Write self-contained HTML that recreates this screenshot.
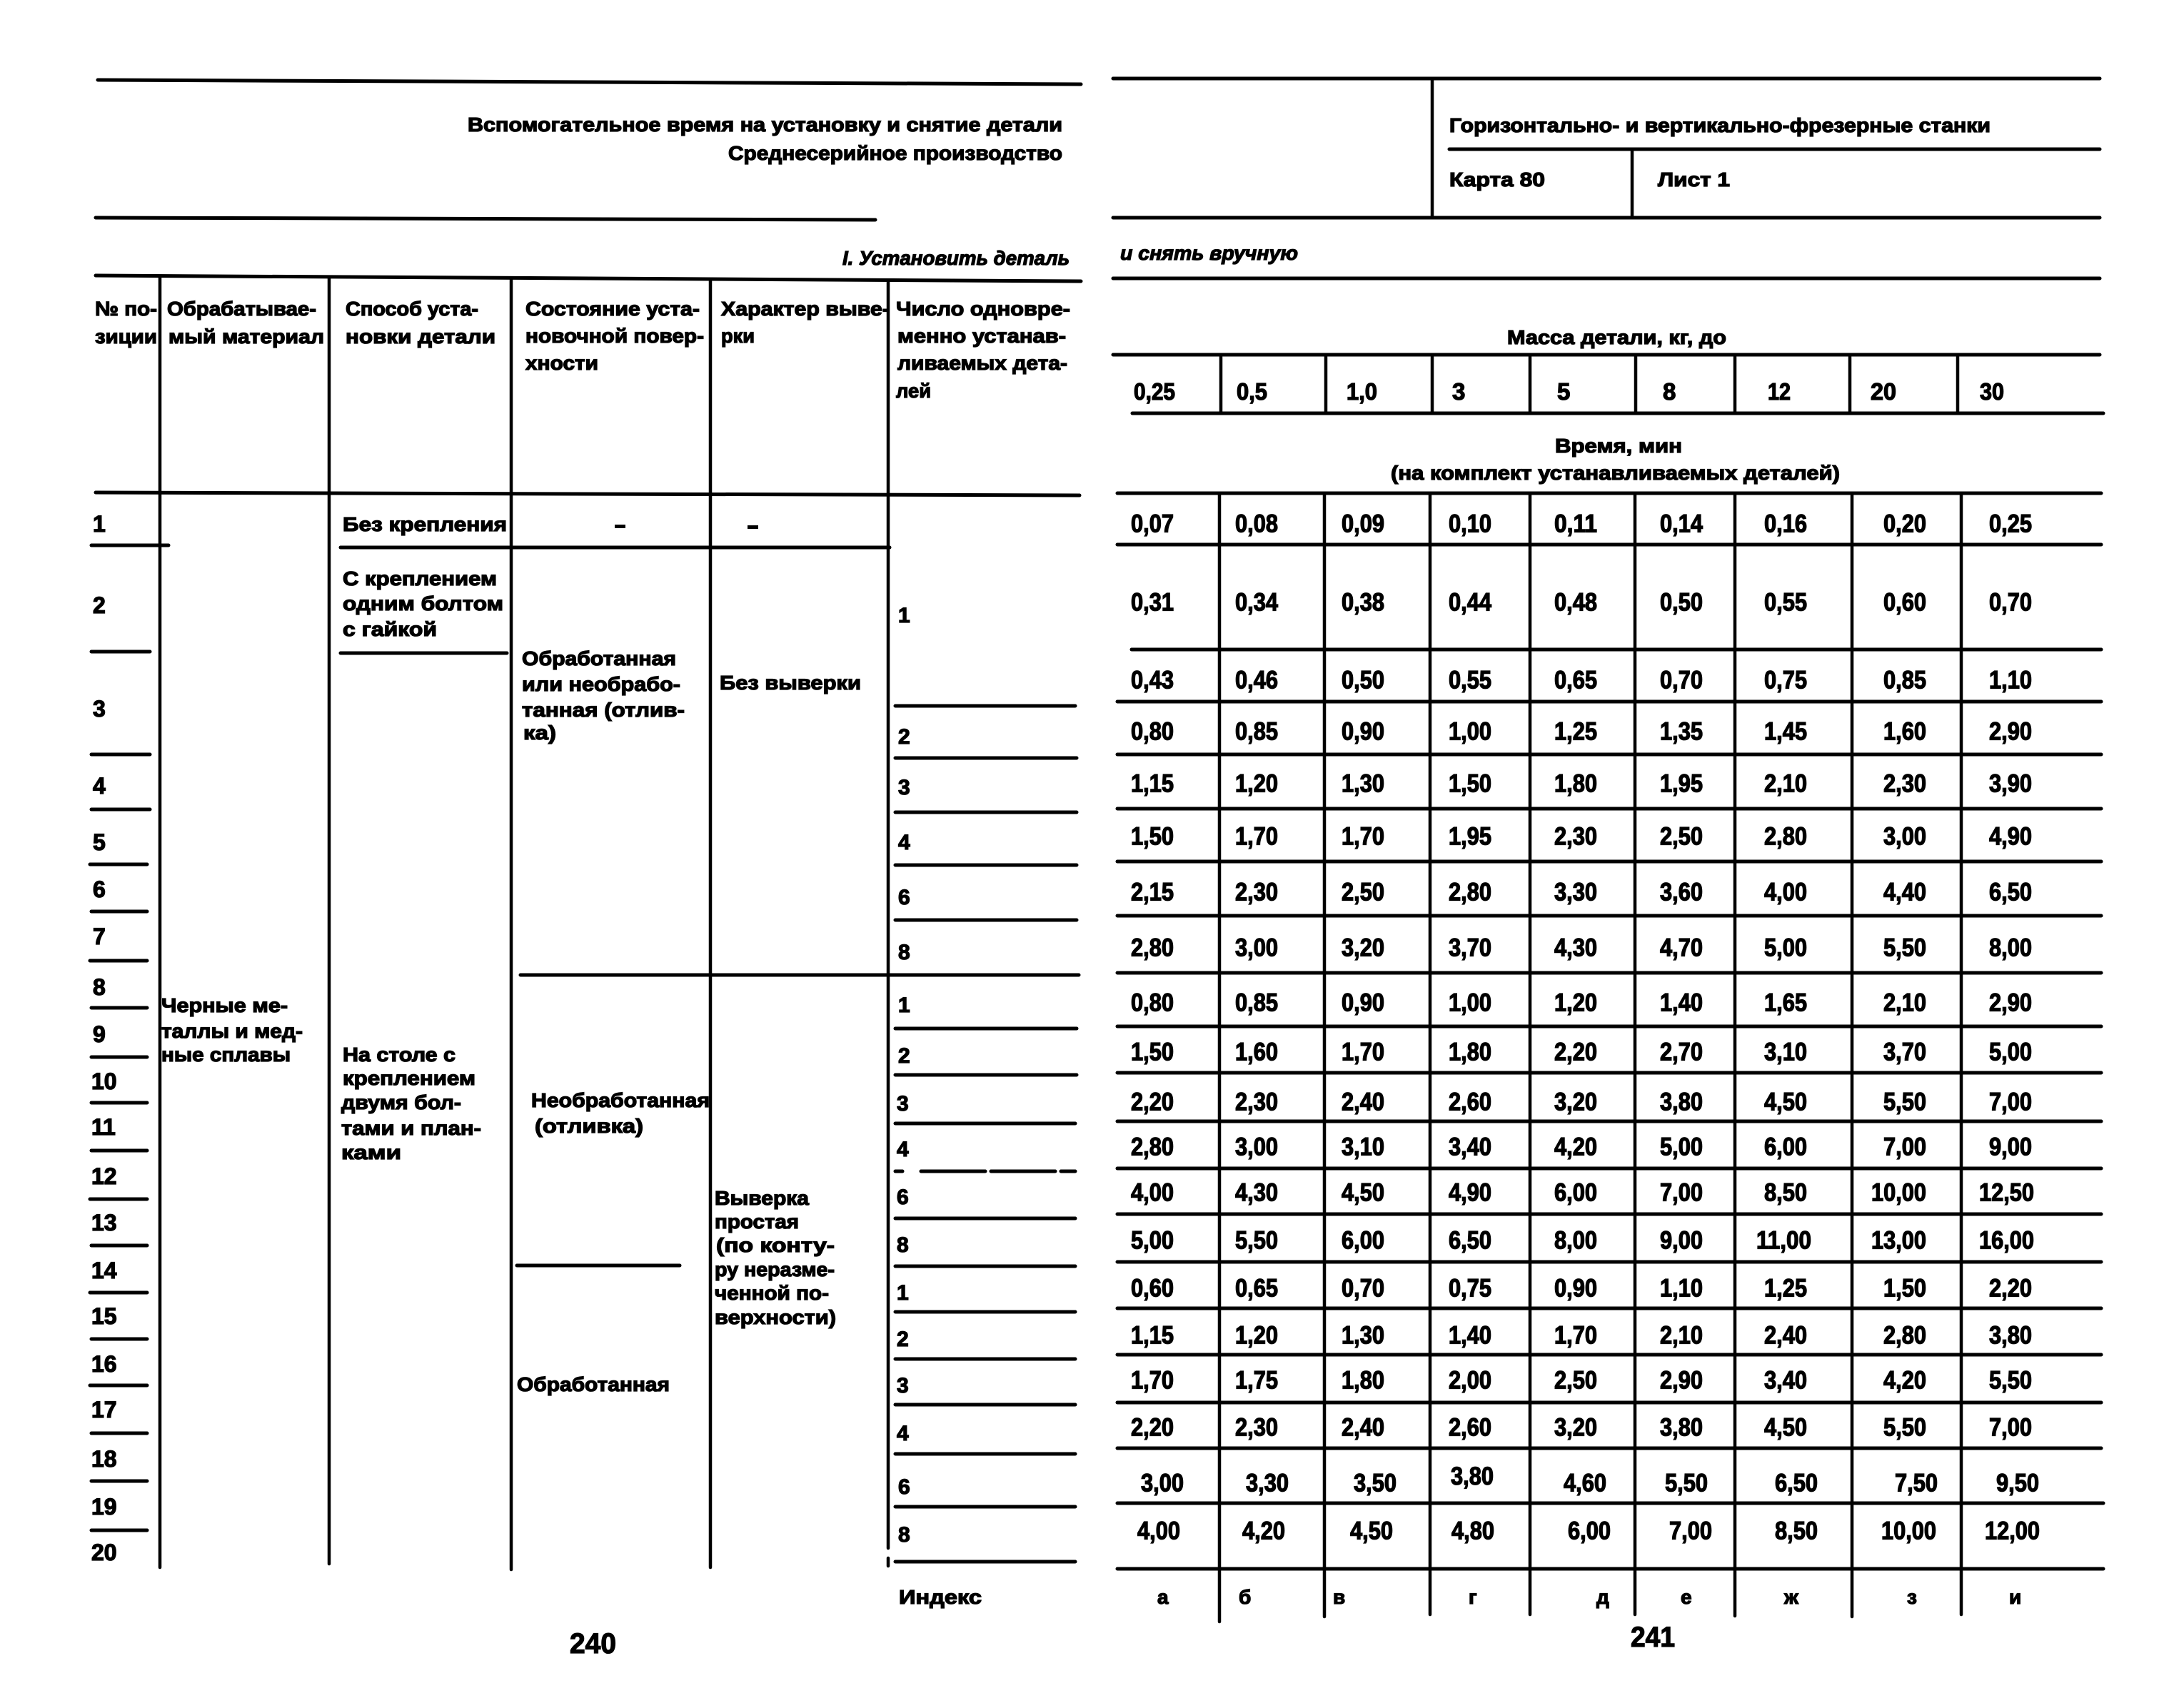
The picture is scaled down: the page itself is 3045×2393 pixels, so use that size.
<!DOCTYPE html>
<html><head><meta charset="utf-8">
<style>
html,body{margin:0;padding:0;background:#fff;}
svg{display:block;}
text{font-family:"Liberation Sans","DejaVu Sans",sans-serif;font-weight:bold;fill:#000;stroke:#000;stroke-width:1.3px;}
.t{font-size:28px;}
.n{font-size:32px;}
.c{font-size:30px;}
.d{font-size:35px;}
.m{font-size:33px;}
.p{font-size:40px;}
.i{font-style:italic;font-size:28px;}
line{stroke:#000;stroke-linecap:round;}
.h{stroke-width:5;}
.v{stroke-width:4.5;}
</style></head>
<body>
<svg width="3045" height="2393" viewBox="0 0 3045 2393" xmlns="http://www.w3.org/2000/svg">
<rect width="3045" height="2393" fill="#fff"/>

<!-- LEFT PAGE -->
<line class="h" x1="137" y1="112" x2="1514" y2="118"/>
<text class="t" x="655" y="184" textLength="833" lengthAdjust="spacingAndGlyphs">Вспомогательное время на установку и снятие детали</text>
<text class="t" x="1020" y="224" textLength="468" lengthAdjust="spacingAndGlyphs">Среднесерийное производство</text>
<line class="h" x1="134" y1="305" x2="1226" y2="308"/>
<text class="i" x="1180" y="371" textLength="318" lengthAdjust="spacingAndGlyphs">I. Установить деталь</text>

<line class="h" x1="134" y1="386" x2="1514" y2="394"/>
<line class="h" x1="134" y1="690" x2="1512" y2="694"/>
<line class="v" x1="224" y1="388" x2="224" y2="2196"/>
<line class="v" x1="461" y1="389" x2="461" y2="2191"/>
<line class="v" x1="716" y1="390" x2="716" y2="2199"/>
<line class="v" x1="995" y1="391" x2="995" y2="2196"/>
<line class="v" x1="1244" y1="393" x2="1244" y2="2169"/>
<line class="v" x1="1244" y1="2183" x2="1244" y2="2194"/>

<!-- header text -->
<text class="t" x="133" y="442" textLength="87" lengthAdjust="spacingAndGlyphs">№ по-</text>
<text class="t" x="133" y="481" textLength="87" lengthAdjust="spacingAndGlyphs">зиции</text>
<text class="t" x="234" y="442" textLength="209" lengthAdjust="spacingAndGlyphs">Обрабатывае-</text>
<text class="t" x="236" y="481" textLength="218" lengthAdjust="spacingAndGlyphs">мый материал</text>
<text class="t" x="484" y="442" textLength="186" lengthAdjust="spacingAndGlyphs">Способ уста-</text>
<text class="t" x="484" y="481" textLength="210" lengthAdjust="spacingAndGlyphs">новки детали</text>
<text class="t" x="736" y="442" textLength="244" lengthAdjust="spacingAndGlyphs">Состояние уста-</text>
<text class="t" x="736" y="480" textLength="250" lengthAdjust="spacingAndGlyphs">новочной повер-</text>
<text class="t" x="736" y="518" textLength="102" lengthAdjust="spacingAndGlyphs">хности</text>
<text class="t" x="1010" y="442" textLength="236" lengthAdjust="spacingAndGlyphs">Характер выве-</text>
<text class="t" x="1010" y="480" textLength="47" lengthAdjust="spacingAndGlyphs">рки</text>
<text class="t" x="1255" y="442" textLength="244" lengthAdjust="spacingAndGlyphs">Число одновре-</text>
<text class="t" x="1257" y="480" textLength="236" lengthAdjust="spacingAndGlyphs">менно устанав-</text>
<text class="t" x="1257" y="518" textLength="238" lengthAdjust="spacingAndGlyphs">ливаемых дета-</text>
<text class="t" x="1255" y="557" textLength="49" lengthAdjust="spacingAndGlyphs">лей</text>

<!-- body lines left -->
<line class="h" x1="477" y1="767" x2="1246" y2="767"/>
<line class="h" x1="477" y1="915" x2="710" y2="915"/>
<line class="h" x1="729" y1="1366" x2="1511" y2="1366"/>
<line class="h" x1="724" y1="1773" x2="952" y2="1773"/>
<line class="h" x1="128" y1="764" x2="236" y2="764"/>
<line class="h" x1="128" y1="913" x2="210" y2="913"/>
<line class="h" x1="128" y1="1057" x2="210" y2="1057"/>
<line class="h" x1="128" y1="1134" x2="210" y2="1134"/>
<line class="h" x1="126" y1="1211" x2="206" y2="1211"/>
<line class="h" x1="128" y1="1277" x2="206" y2="1277"/>
<line class="h" x1="126" y1="1346" x2="206" y2="1346"/>
<line class="h" x1="128" y1="1412" x2="206" y2="1412"/>
<line class="h" x1="128" y1="1481" x2="206" y2="1481"/>
<line class="h" x1="128" y1="1545" x2="206" y2="1545"/>
<line class="h" x1="128" y1="1612" x2="206" y2="1612"/>
<line class="h" x1="126" y1="1680" x2="206" y2="1680"/>
<line class="h" x1="128" y1="1745" x2="206" y2="1745"/>
<line class="h" x1="126" y1="1811" x2="206" y2="1811"/>
<line class="h" x1="128" y1="1876" x2="206" y2="1876"/>
<line class="h" x1="126" y1="1941" x2="206" y2="1941"/>
<line class="h" x1="128" y1="2008" x2="206" y2="2008"/>
<line class="h" x1="128" y1="2075" x2="206" y2="2075"/>
<line class="h" x1="128" y1="2144" x2="206" y2="2144"/>

<line class="h" x1="1254" y1="989" x2="1506" y2="989"/>
<line class="h" x1="1254" y1="1062" x2="1508" y2="1062"/>
<line class="h" x1="1254" y1="1138" x2="1508" y2="1138"/>
<line class="h" x1="1254" y1="1212" x2="1508" y2="1212"/>
<line class="h" x1="1254" y1="1289" x2="1508" y2="1289"/>
<line class="h" x1="1254" y1="1441" x2="1508" y2="1441"/>
<line class="h" x1="1254" y1="1506" x2="1508" y2="1506"/>
<line class="h" x1="1254" y1="1574" x2="1506" y2="1574"/>
<line class="h" x1="1254" y1="1641" x2="1264" y2="1641"/>
<line class="h" x1="1290" y1="1641" x2="1506" y2="1641" stroke-dasharray="90 8"/>
<line class="h" x1="1254" y1="1707" x2="1506" y2="1707"/>
<line class="h" x1="1254" y1="1774" x2="1506" y2="1774"/>
<line class="h" x1="1254" y1="1838" x2="1506" y2="1838"/>
<line class="h" x1="1254" y1="1904" x2="1506" y2="1904"/>
<line class="h" x1="1254" y1="1968" x2="1506" y2="1968"/>
<line class="h" x1="1254" y1="2037" x2="1506" y2="2037"/>
<line class="h" x1="1254" y1="2111" x2="1506" y2="2111"/>
<line class="h" x1="1254" y1="2188" x2="1506" y2="2188"/>

<!-- row numbers -->
<text class="n" x="130" y="745">1</text>
<text class="n" x="130" y="859">2</text>
<text class="n" x="130" y="1004">3</text>
<text class="n" x="130" y="1112">4</text>
<text class="n" x="130" y="1191">5</text>
<text class="n" x="130" y="1257">6</text>
<text class="n" x="130" y="1323">7</text>
<text class="n" x="130" y="1394">8</text>
<text class="n" x="130" y="1460">9</text>
<text class="n" x="128" y="1526">10</text>
<text class="n" x="128" y="1590">11</text>
<text class="n" x="128" y="1659">12</text>
<text class="n" x="128" y="1724">13</text>
<text class="n" x="128" y="1791">14</text>
<text class="n" x="128" y="1855">15</text>
<text class="n" x="128" y="1922">16</text>
<text class="n" x="128" y="1986">17</text>
<text class="n" x="128" y="2055">18</text>
<text class="n" x="128" y="2122">19</text>
<text class="n" x="128" y="2186">20</text>

<!-- body text left -->
<text class="t" x="480" y="744" textLength="230" lengthAdjust="spacingAndGlyphs">Без крепления</text>
<rect x="861" y="735" width="15" height="5" fill="#000"/>
<rect x="1047" y="736" width="15" height="5" fill="#000"/>
<text class="t" x="480" y="820" textLength="216" lengthAdjust="spacingAndGlyphs">С креплением</text>
<text class="t" x="480" y="855" textLength="225" lengthAdjust="spacingAndGlyphs">одним болтом</text>
<text class="t" x="480" y="891" textLength="132" lengthAdjust="spacingAndGlyphs">с гайкой</text>

<text class="t" x="731" y="932" textLength="216" lengthAdjust="spacingAndGlyphs">Обработанная</text>
<text class="t" x="731" y="968" textLength="222" lengthAdjust="spacingAndGlyphs">или необрабо-</text>
<text class="t" x="731" y="1004" textLength="228" lengthAdjust="spacingAndGlyphs">танная  (отлив-</text>
<text class="t" x="733" y="1036" textLength="46" lengthAdjust="spacingAndGlyphs">ка)</text>
<text class="t" x="1008" y="966" textLength="198" lengthAdjust="spacingAndGlyphs">Без выверки</text>

<text class="t" x="226" y="1418" textLength="177" lengthAdjust="spacingAndGlyphs">Черные ме-</text>
<text class="t" x="226" y="1454" textLength="198" lengthAdjust="spacingAndGlyphs">таллы и мед-</text>
<text class="t" x="226" y="1487" textLength="181" lengthAdjust="spacingAndGlyphs">ные сплавы</text>

<text class="t" x="480" y="1487" textLength="158" lengthAdjust="spacingAndGlyphs">На столе с</text>
<text class="t" x="480" y="1520" textLength="186" lengthAdjust="spacingAndGlyphs">креплением</text>
<text class="t" x="478" y="1554" textLength="168" lengthAdjust="spacingAndGlyphs">двумя бол-</text>
<text class="t" x="478" y="1590" textLength="196" lengthAdjust="spacingAndGlyphs">тами и план-</text>
<text class="t" x="478" y="1624" textLength="84" lengthAdjust="spacingAndGlyphs">ками</text>

<text class="t" x="744" y="1551" textLength="250" lengthAdjust="spacingAndGlyphs">Необработанная</text>
<text class="t" x="749" y="1587" textLength="152" lengthAdjust="spacingAndGlyphs">(отливка)</text>

<text class="t" x="1001" y="1688" textLength="132" lengthAdjust="spacingAndGlyphs">Выверка</text>
<text class="t" x="1001" y="1721" textLength="118" lengthAdjust="spacingAndGlyphs">простая</text>
<text class="t" x="1003" y="1754" textLength="166" lengthAdjust="spacingAndGlyphs">(по конту-</text>
<text class="t" x="1001" y="1788" textLength="168" lengthAdjust="spacingAndGlyphs">ру неразме-</text>
<text class="t" x="1001" y="1821" textLength="160" lengthAdjust="spacingAndGlyphs">ченной по-</text>
<text class="t" x="1001" y="1855" textLength="170" lengthAdjust="spacingAndGlyphs">верхности)</text>

<text class="t" x="724" y="1949" textLength="214" lengthAdjust="spacingAndGlyphs">Обработанная</text>

<!-- col 6 numbers -->
<text class="c" x="1258" y="872">1</text>
<text class="c" x="1258" y="1042">2</text>
<text class="c" x="1258" y="1113">3</text>
<text class="c" x="1258" y="1190">4</text>
<text class="c" x="1258" y="1267">6</text>
<text class="c" x="1258" y="1344">8</text>
<text class="c" x="1258" y="1418">1</text>
<text class="c" x="1258" y="1489">2</text>
<text class="c" x="1256" y="1556">3</text>
<text class="c" x="1256" y="1620">4</text>
<text class="c" x="1256" y="1687">6</text>
<text class="c" x="1256" y="1754">8</text>
<text class="c" x="1256" y="1821">1</text>
<text class="c" x="1256" y="1886">2</text>
<text class="c" x="1256" y="1951">3</text>
<text class="c" x="1256" y="2018">4</text>
<text class="c" x="1258" y="2093">6</text>
<text class="c" x="1258" y="2160">8</text>

<text class="t" x="1259" y="2247" textLength="116" lengthAdjust="spacingAndGlyphs">Индекс</text>
<text class="p" x="798" y="2316" textLength="65" lengthAdjust="spacingAndGlyphs">240</text>

<!-- RIGHT PAGE -->
<line class="h" x1="1559" y1="110" x2="2941" y2="110"/>
<line class="v" x1="2006" y1="110" x2="2006" y2="305"/>
<line class="h" x1="2030" y1="209" x2="2941" y2="209"/>
<line class="v" x1="2286" y1="209" x2="2286" y2="305"/>
<line class="h" x1="1559" y1="305" x2="2941" y2="305"/>
<line class="h" x1="1559" y1="390" x2="2941" y2="390"/>
<line class="h" x1="1559" y1="497" x2="2941" y2="497"/>
<line class="h" x1="1586" y1="579" x2="2946" y2="579"/>

<text class="t" x="2030" y="185" textLength="758" lengthAdjust="spacingAndGlyphs">Горизонтально- и вертикально-фрезерные станки</text>
<text class="t" x="2030" y="261" textLength="134" lengthAdjust="spacingAndGlyphs">Карта 80</text>
<text class="t" x="2322" y="261" textLength="101" lengthAdjust="spacingAndGlyphs">Лист 1</text>
<text class="i" x="1569" y="364" textLength="249" lengthAdjust="spacingAndGlyphs">и снять вручную</text>
<text class="t" x="2111" y="482" textLength="307" lengthAdjust="spacingAndGlyphs">Масса детали, кг, до</text>

<line class="v" x1="1710" y1="500" x2="1710" y2="579"/>
<line class="v" x1="1857" y1="500" x2="1857" y2="579"/>
<line class="v" x1="2006" y1="500" x2="2006" y2="579"/>
<line class="v" x1="2143" y1="500" x2="2143" y2="579"/>
<line class="v" x1="2291" y1="500" x2="2291" y2="579"/>
<line class="v" x1="2430" y1="500" x2="2430" y2="579"/>
<line class="v" x1="2591" y1="500" x2="2591" y2="579"/>
<line class="v" x1="2742" y1="500" x2="2742" y2="579"/>

<text class="m" x="1588" y="560" textLength="58" lengthAdjust="spacingAndGlyphs">0,25</text>
<text class="m" x="1732" y="560" textLength="43" lengthAdjust="spacingAndGlyphs">0,5</text>
<text class="m" x="1886" y="560" textLength="43" lengthAdjust="spacingAndGlyphs">1,0</text>
<text class="m" x="2034" y="560">3</text>
<text class="m" x="2181" y="560">5</text>
<text class="m" x="2329" y="560">8</text>
<text class="m" x="2476" y="560" textLength="32" lengthAdjust="spacingAndGlyphs">12</text>
<text class="m" x="2620" y="560" textLength="36" lengthAdjust="spacingAndGlyphs">20</text>
<text class="m" x="2773" y="560" textLength="34" lengthAdjust="spacingAndGlyphs">30</text>

<text class="t" x="2178" y="634" textLength="178" lengthAdjust="spacingAndGlyphs">Время, мин</text>
<text class="t" x="1948" y="672" textLength="629" lengthAdjust="spacingAndGlyphs">(на комплект устанавливаемых деталей)</text>

<!-- data grid -->
<line class="h" x1="1565" y1="691" x2="2943" y2="691"/>
<line class="h" x1="1565" y1="763" x2="2943" y2="763"/>
<line class="h" x1="1585" y1="910" x2="2943" y2="910"/>
<line class="h" x1="1565" y1="983" x2="2943" y2="983"/>
<line class="h" x1="1565" y1="1057" x2="2943" y2="1057"/>
<line class="h" x1="1565" y1="1133" x2="2943" y2="1133"/>
<line class="h" x1="1565" y1="1207" x2="2943" y2="1207"/>
<line class="h" x1="1565" y1="1283" x2="2943" y2="1283"/>
<line class="h" x1="1565" y1="1363" x2="2943" y2="1363"/>
<line class="h" x1="1565" y1="1438" x2="2943" y2="1438"/>
<line class="h" x1="1565" y1="1503" x2="2943" y2="1503"/>
<line class="h" x1="1565" y1="1571" x2="2943" y2="1571"/>
<line class="h" x1="1565" y1="1637" x2="2943" y2="1637"/>
<line class="h" x1="1565" y1="1701" x2="2943" y2="1701"/>
<line class="h" x1="1565" y1="1768" x2="2943" y2="1768"/>
<line class="h" x1="1565" y1="1833" x2="2943" y2="1833"/>
<line class="h" x1="1565" y1="1898" x2="2943" y2="1898"/>
<line class="h" x1="1565" y1="1965" x2="2943" y2="1965"/>
<line class="h" x1="1565" y1="2029" x2="2943" y2="2029"/>
<line class="h" x1="1565" y1="2106" x2="2946" y2="2106"/>
<line class="h" x1="1565" y1="2198" x2="2946" y2="2198"/>

<line class="v" x1="1708" y1="691" x2="1708" y2="2272"/>
<line class="v" x1="1855" y1="691" x2="1855" y2="2265"/>
<line class="v" x1="2003" y1="691" x2="2003" y2="2262"/>
<line class="v" x1="2143" y1="691" x2="2143" y2="2262"/>
<line class="v" x1="2290" y1="691" x2="2290" y2="2262"/>
<line class="v" x1="2430" y1="691" x2="2430" y2="2264"/>
<line class="v" x1="2594" y1="691" x2="2594" y2="2265"/>
<line class="v" x1="2747" y1="691" x2="2747" y2="2262"/>

<!-- row 1 -->
<text class="d" x="1584" y="745.5" textLength="60" lengthAdjust="spacingAndGlyphs">0,07</text>
<text class="d" x="1730" y="745.5" textLength="60" lengthAdjust="spacingAndGlyphs">0,08</text>
<text class="d" x="1879" y="745.5" textLength="60" lengthAdjust="spacingAndGlyphs">0,09</text>
<text class="d" x="2029" y="745.5" textLength="60" lengthAdjust="spacingAndGlyphs">0,10</text>
<text class="d" x="2177" y="745.5" textLength="60" lengthAdjust="spacingAndGlyphs">0,11</text>
<text class="d" x="2325" y="745.5" textLength="60" lengthAdjust="spacingAndGlyphs">0,14</text>
<text class="d" x="2471" y="745.5" textLength="60" lengthAdjust="spacingAndGlyphs">0,16</text>
<text class="d" x="2638" y="745.5" textLength="60" lengthAdjust="spacingAndGlyphs">0,20</text>
<text class="d" x="2786" y="745.5" textLength="60" lengthAdjust="spacingAndGlyphs">0,25</text>
<!-- row 2 -->
<text class="d" x="1584" y="855.5" textLength="60" lengthAdjust="spacingAndGlyphs">0,31</text>
<text class="d" x="1730" y="855.5" textLength="60" lengthAdjust="spacingAndGlyphs">0,34</text>
<text class="d" x="1879" y="855.5" textLength="60" lengthAdjust="spacingAndGlyphs">0,38</text>
<text class="d" x="2029" y="855.5" textLength="60" lengthAdjust="spacingAndGlyphs">0,44</text>
<text class="d" x="2177" y="855.5" textLength="60" lengthAdjust="spacingAndGlyphs">0,48</text>
<text class="d" x="2325" y="855.5" textLength="60" lengthAdjust="spacingAndGlyphs">0,50</text>
<text class="d" x="2471" y="855.5" textLength="60" lengthAdjust="spacingAndGlyphs">0,55</text>
<text class="d" x="2638" y="855.5" textLength="60" lengthAdjust="spacingAndGlyphs">0,60</text>
<text class="d" x="2786" y="855.5" textLength="60" lengthAdjust="spacingAndGlyphs">0,70</text>
<!-- row 3 -->
<text class="d" x="1584" y="964.5" textLength="60" lengthAdjust="spacingAndGlyphs">0,43</text>
<text class="d" x="1730" y="964.5" textLength="60" lengthAdjust="spacingAndGlyphs">0,46</text>
<text class="d" x="1879" y="964.5" textLength="60" lengthAdjust="spacingAndGlyphs">0,50</text>
<text class="d" x="2029" y="964.5" textLength="60" lengthAdjust="spacingAndGlyphs">0,55</text>
<text class="d" x="2177" y="964.5" textLength="60" lengthAdjust="spacingAndGlyphs">0,65</text>
<text class="d" x="2325" y="964.5" textLength="60" lengthAdjust="spacingAndGlyphs">0,70</text>
<text class="d" x="2471" y="964.5" textLength="60" lengthAdjust="spacingAndGlyphs">0,75</text>
<text class="d" x="2638" y="964.5" textLength="60" lengthAdjust="spacingAndGlyphs">0,85</text>
<text class="d" x="2786" y="964.5" textLength="60" lengthAdjust="spacingAndGlyphs">1,10</text>
<!-- row 4 -->
<text class="d" x="1584" y="1036.5" textLength="60" lengthAdjust="spacingAndGlyphs">0,80</text>
<text class="d" x="1730" y="1036.5" textLength="60" lengthAdjust="spacingAndGlyphs">0,85</text>
<text class="d" x="1879" y="1036.5" textLength="60" lengthAdjust="spacingAndGlyphs">0,90</text>
<text class="d" x="2029" y="1036.5" textLength="60" lengthAdjust="spacingAndGlyphs">1,00</text>
<text class="d" x="2177" y="1036.5" textLength="60" lengthAdjust="spacingAndGlyphs">1,25</text>
<text class="d" x="2325" y="1036.5" textLength="60" lengthAdjust="spacingAndGlyphs">1,35</text>
<text class="d" x="2471" y="1036.5" textLength="60" lengthAdjust="spacingAndGlyphs">1,45</text>
<text class="d" x="2638" y="1036.5" textLength="60" lengthAdjust="spacingAndGlyphs">1,60</text>
<text class="d" x="2786" y="1036.5" textLength="60" lengthAdjust="spacingAndGlyphs">2,90</text>
<!-- row 5 -->
<text class="d" x="1584" y="1109.5" textLength="60" lengthAdjust="spacingAndGlyphs">1,15</text>
<text class="d" x="1730" y="1109.5" textLength="60" lengthAdjust="spacingAndGlyphs">1,20</text>
<text class="d" x="1879" y="1109.5" textLength="60" lengthAdjust="spacingAndGlyphs">1,30</text>
<text class="d" x="2029" y="1109.5" textLength="60" lengthAdjust="spacingAndGlyphs">1,50</text>
<text class="d" x="2177" y="1109.5" textLength="60" lengthAdjust="spacingAndGlyphs">1,80</text>
<text class="d" x="2325" y="1109.5" textLength="60" lengthAdjust="spacingAndGlyphs">1,95</text>
<text class="d" x="2471" y="1109.5" textLength="60" lengthAdjust="spacingAndGlyphs">2,10</text>
<text class="d" x="2638" y="1109.5" textLength="60" lengthAdjust="spacingAndGlyphs">2,30</text>
<text class="d" x="2786" y="1109.5" textLength="60" lengthAdjust="spacingAndGlyphs">3,90</text>
<!-- row 6 -->
<text class="d" x="1584" y="1183.5" textLength="60" lengthAdjust="spacingAndGlyphs">1,50</text>
<text class="d" x="1730" y="1183.5" textLength="60" lengthAdjust="spacingAndGlyphs">1,70</text>
<text class="d" x="1879" y="1183.5" textLength="60" lengthAdjust="spacingAndGlyphs">1,70</text>
<text class="d" x="2029" y="1183.5" textLength="60" lengthAdjust="spacingAndGlyphs">1,95</text>
<text class="d" x="2177" y="1183.5" textLength="60" lengthAdjust="spacingAndGlyphs">2,30</text>
<text class="d" x="2325" y="1183.5" textLength="60" lengthAdjust="spacingAndGlyphs">2,50</text>
<text class="d" x="2471" y="1183.5" textLength="60" lengthAdjust="spacingAndGlyphs">2,80</text>
<text class="d" x="2638" y="1183.5" textLength="60" lengthAdjust="spacingAndGlyphs">3,00</text>
<text class="d" x="2786" y="1183.5" textLength="60" lengthAdjust="spacingAndGlyphs">4,90</text>
<!-- row 7 -->
<text class="d" x="1584" y="1261.5" textLength="60" lengthAdjust="spacingAndGlyphs">2,15</text>
<text class="d" x="1730" y="1261.5" textLength="60" lengthAdjust="spacingAndGlyphs">2,30</text>
<text class="d" x="1879" y="1261.5" textLength="60" lengthAdjust="spacingAndGlyphs">2,50</text>
<text class="d" x="2029" y="1261.5" textLength="60" lengthAdjust="spacingAndGlyphs">2,80</text>
<text class="d" x="2177" y="1261.5" textLength="60" lengthAdjust="spacingAndGlyphs">3,30</text>
<text class="d" x="2325" y="1261.5" textLength="60" lengthAdjust="spacingAndGlyphs">3,60</text>
<text class="d" x="2471" y="1261.5" textLength="60" lengthAdjust="spacingAndGlyphs">4,00</text>
<text class="d" x="2638" y="1261.5" textLength="60" lengthAdjust="spacingAndGlyphs">4,40</text>
<text class="d" x="2786" y="1261.5" textLength="60" lengthAdjust="spacingAndGlyphs">6,50</text>
<!-- row 8 -->
<text class="d" x="1584" y="1339.5" textLength="60" lengthAdjust="spacingAndGlyphs">2,80</text>
<text class="d" x="1730" y="1339.5" textLength="60" lengthAdjust="spacingAndGlyphs">3,00</text>
<text class="d" x="1879" y="1339.5" textLength="60" lengthAdjust="spacingAndGlyphs">3,20</text>
<text class="d" x="2029" y="1339.5" textLength="60" lengthAdjust="spacingAndGlyphs">3,70</text>
<text class="d" x="2177" y="1339.5" textLength="60" lengthAdjust="spacingAndGlyphs">4,30</text>
<text class="d" x="2325" y="1339.5" textLength="60" lengthAdjust="spacingAndGlyphs">4,70</text>
<text class="d" x="2471" y="1339.5" textLength="60" lengthAdjust="spacingAndGlyphs">5,00</text>
<text class="d" x="2638" y="1339.5" textLength="60" lengthAdjust="spacingAndGlyphs">5,50</text>
<text class="d" x="2786" y="1339.5" textLength="60" lengthAdjust="spacingAndGlyphs">8,00</text>
<!-- row 9 -->
<text class="d" x="1584" y="1416.5" textLength="60" lengthAdjust="spacingAndGlyphs">0,80</text>
<text class="d" x="1730" y="1416.5" textLength="60" lengthAdjust="spacingAndGlyphs">0,85</text>
<text class="d" x="1879" y="1416.5" textLength="60" lengthAdjust="spacingAndGlyphs">0,90</text>
<text class="d" x="2029" y="1416.5" textLength="60" lengthAdjust="spacingAndGlyphs">1,00</text>
<text class="d" x="2177" y="1416.5" textLength="60" lengthAdjust="spacingAndGlyphs">1,20</text>
<text class="d" x="2325" y="1416.5" textLength="60" lengthAdjust="spacingAndGlyphs">1,40</text>
<text class="d" x="2471" y="1416.5" textLength="60" lengthAdjust="spacingAndGlyphs">1,65</text>
<text class="d" x="2638" y="1416.5" textLength="60" lengthAdjust="spacingAndGlyphs">2,10</text>
<text class="d" x="2786" y="1416.5" textLength="60" lengthAdjust="spacingAndGlyphs">2,90</text>
<!-- row 10 -->
<text class="d" x="1584" y="1485.5" textLength="60" lengthAdjust="spacingAndGlyphs">1,50</text>
<text class="d" x="1730" y="1485.5" textLength="60" lengthAdjust="spacingAndGlyphs">1,60</text>
<text class="d" x="1879" y="1485.5" textLength="60" lengthAdjust="spacingAndGlyphs">1,70</text>
<text class="d" x="2029" y="1485.5" textLength="60" lengthAdjust="spacingAndGlyphs">1,80</text>
<text class="d" x="2177" y="1485.5" textLength="60" lengthAdjust="spacingAndGlyphs">2,20</text>
<text class="d" x="2325" y="1485.5" textLength="60" lengthAdjust="spacingAndGlyphs">2,70</text>
<text class="d" x="2471" y="1485.5" textLength="60" lengthAdjust="spacingAndGlyphs">3,10</text>
<text class="d" x="2638" y="1485.5" textLength="60" lengthAdjust="spacingAndGlyphs">3,70</text>
<text class="d" x="2786" y="1485.5" textLength="60" lengthAdjust="spacingAndGlyphs">5,00</text>
<!-- row 11 -->
<text class="d" x="1584" y="1555.5" textLength="60" lengthAdjust="spacingAndGlyphs">2,20</text>
<text class="d" x="1730" y="1555.5" textLength="60" lengthAdjust="spacingAndGlyphs">2,30</text>
<text class="d" x="1879" y="1555.5" textLength="60" lengthAdjust="spacingAndGlyphs">2,40</text>
<text class="d" x="2029" y="1555.5" textLength="60" lengthAdjust="spacingAndGlyphs">2,60</text>
<text class="d" x="2177" y="1555.5" textLength="60" lengthAdjust="spacingAndGlyphs">3,20</text>
<text class="d" x="2325" y="1555.5" textLength="60" lengthAdjust="spacingAndGlyphs">3,80</text>
<text class="d" x="2471" y="1555.5" textLength="60" lengthAdjust="spacingAndGlyphs">4,50</text>
<text class="d" x="2638" y="1555.5" textLength="60" lengthAdjust="spacingAndGlyphs">5,50</text>
<text class="d" x="2786" y="1555.5" textLength="60" lengthAdjust="spacingAndGlyphs">7,00</text>
<!-- row 12 -->
<text class="d" x="1584" y="1618.5" textLength="60" lengthAdjust="spacingAndGlyphs">2,80</text>
<text class="d" x="1730" y="1618.5" textLength="60" lengthAdjust="spacingAndGlyphs">3,00</text>
<text class="d" x="1879" y="1618.5" textLength="60" lengthAdjust="spacingAndGlyphs">3,10</text>
<text class="d" x="2029" y="1618.5" textLength="60" lengthAdjust="spacingAndGlyphs">3,40</text>
<text class="d" x="2177" y="1618.5" textLength="60" lengthAdjust="spacingAndGlyphs">4,20</text>
<text class="d" x="2325" y="1618.5" textLength="60" lengthAdjust="spacingAndGlyphs">5,00</text>
<text class="d" x="2471" y="1618.5" textLength="60" lengthAdjust="spacingAndGlyphs">6,00</text>
<text class="d" x="2638" y="1618.5" textLength="60" lengthAdjust="spacingAndGlyphs">7,00</text>
<text class="d" x="2786" y="1618.5" textLength="60" lengthAdjust="spacingAndGlyphs">9,00</text>
<!-- row 13 -->
<text class="d" x="1584" y="1682.5" textLength="60" lengthAdjust="spacingAndGlyphs">4,00</text>
<text class="d" x="1730" y="1682.5" textLength="60" lengthAdjust="spacingAndGlyphs">4,30</text>
<text class="d" x="1879" y="1682.5" textLength="60" lengthAdjust="spacingAndGlyphs">4,50</text>
<text class="d" x="2029" y="1682.5" textLength="60" lengthAdjust="spacingAndGlyphs">4,90</text>
<text class="d" x="2177" y="1682.5" textLength="60" lengthAdjust="spacingAndGlyphs">6,00</text>
<text class="d" x="2325" y="1682.5" textLength="60" lengthAdjust="spacingAndGlyphs">7,00</text>
<text class="d" x="2471" y="1682.5" textLength="60" lengthAdjust="spacingAndGlyphs">8,50</text>
<text class="d" x="2621" y="1682.5" textLength="77" lengthAdjust="spacingAndGlyphs">10,00</text>
<text class="d" x="2772" y="1682.5" textLength="77" lengthAdjust="spacingAndGlyphs">12,50</text>
<!-- row 14 -->
<text class="d" x="1584" y="1749.5" textLength="60" lengthAdjust="spacingAndGlyphs">5,00</text>
<text class="d" x="1730" y="1749.5" textLength="60" lengthAdjust="spacingAndGlyphs">5,50</text>
<text class="d" x="1879" y="1749.5" textLength="60" lengthAdjust="spacingAndGlyphs">6,00</text>
<text class="d" x="2029" y="1749.5" textLength="60" lengthAdjust="spacingAndGlyphs">6,50</text>
<text class="d" x="2177" y="1749.5" textLength="60" lengthAdjust="spacingAndGlyphs">8,00</text>
<text class="d" x="2325" y="1749.5" textLength="60" lengthAdjust="spacingAndGlyphs">9,00</text>
<text class="d" x="2460" y="1749.5" textLength="77" lengthAdjust="spacingAndGlyphs">11,00</text>
<text class="d" x="2621" y="1749.5" textLength="77" lengthAdjust="spacingAndGlyphs">13,00</text>
<text class="d" x="2772" y="1749.5" textLength="77" lengthAdjust="spacingAndGlyphs">16,00</text>
<!-- row 15 -->
<text class="d" x="1584" y="1816.5" textLength="60" lengthAdjust="spacingAndGlyphs">0,60</text>
<text class="d" x="1730" y="1816.5" textLength="60" lengthAdjust="spacingAndGlyphs">0,65</text>
<text class="d" x="1879" y="1816.5" textLength="60" lengthAdjust="spacingAndGlyphs">0,70</text>
<text class="d" x="2029" y="1816.5" textLength="60" lengthAdjust="spacingAndGlyphs">0,75</text>
<text class="d" x="2177" y="1816.5" textLength="60" lengthAdjust="spacingAndGlyphs">0,90</text>
<text class="d" x="2325" y="1816.5" textLength="60" lengthAdjust="spacingAndGlyphs">1,10</text>
<text class="d" x="2471" y="1816.5" textLength="60" lengthAdjust="spacingAndGlyphs">1,25</text>
<text class="d" x="2638" y="1816.5" textLength="60" lengthAdjust="spacingAndGlyphs">1,50</text>
<text class="d" x="2786" y="1816.5" textLength="60" lengthAdjust="spacingAndGlyphs">2,20</text>
<!-- row 16 -->
<text class="d" x="1584" y="1882.5" textLength="60" lengthAdjust="spacingAndGlyphs">1,15</text>
<text class="d" x="1730" y="1882.5" textLength="60" lengthAdjust="spacingAndGlyphs">1,20</text>
<text class="d" x="1879" y="1882.5" textLength="60" lengthAdjust="spacingAndGlyphs">1,30</text>
<text class="d" x="2029" y="1882.5" textLength="60" lengthAdjust="spacingAndGlyphs">1,40</text>
<text class="d" x="2177" y="1882.5" textLength="60" lengthAdjust="spacingAndGlyphs">1,70</text>
<text class="d" x="2325" y="1882.5" textLength="60" lengthAdjust="spacingAndGlyphs">2,10</text>
<text class="d" x="2471" y="1882.5" textLength="60" lengthAdjust="spacingAndGlyphs">2,40</text>
<text class="d" x="2638" y="1882.5" textLength="60" lengthAdjust="spacingAndGlyphs">2,80</text>
<text class="d" x="2786" y="1882.5" textLength="60" lengthAdjust="spacingAndGlyphs">3,80</text>
<!-- row 17 -->
<text class="d" x="1584" y="1945.5" textLength="60" lengthAdjust="spacingAndGlyphs">1,70</text>
<text class="d" x="1730" y="1945.5" textLength="60" lengthAdjust="spacingAndGlyphs">1,75</text>
<text class="d" x="1879" y="1945.5" textLength="60" lengthAdjust="spacingAndGlyphs">1,80</text>
<text class="d" x="2029" y="1945.5" textLength="60" lengthAdjust="spacingAndGlyphs">2,00</text>
<text class="d" x="2177" y="1945.5" textLength="60" lengthAdjust="spacingAndGlyphs">2,50</text>
<text class="d" x="2325" y="1945.5" textLength="60" lengthAdjust="spacingAndGlyphs">2,90</text>
<text class="d" x="2471" y="1945.5" textLength="60" lengthAdjust="spacingAndGlyphs">3,40</text>
<text class="d" x="2638" y="1945.5" textLength="60" lengthAdjust="spacingAndGlyphs">4,20</text>
<text class="d" x="2786" y="1945.5" textLength="60" lengthAdjust="spacingAndGlyphs">5,50</text>
<!-- row 18 -->
<text class="d" x="1584" y="2011.5" textLength="60" lengthAdjust="spacingAndGlyphs">2,20</text>
<text class="d" x="1730" y="2011.5" textLength="60" lengthAdjust="spacingAndGlyphs">2,30</text>
<text class="d" x="1879" y="2011.5" textLength="60" lengthAdjust="spacingAndGlyphs">2,40</text>
<text class="d" x="2029" y="2011.5" textLength="60" lengthAdjust="spacingAndGlyphs">2,60</text>
<text class="d" x="2177" y="2011.5" textLength="60" lengthAdjust="spacingAndGlyphs">3,20</text>
<text class="d" x="2325" y="2011.5" textLength="60" lengthAdjust="spacingAndGlyphs">3,80</text>
<text class="d" x="2471" y="2011.5" textLength="60" lengthAdjust="spacingAndGlyphs">4,50</text>
<text class="d" x="2638" y="2011.5" textLength="60" lengthAdjust="spacingAndGlyphs">5,50</text>
<text class="d" x="2786" y="2011.5" textLength="60" lengthAdjust="spacingAndGlyphs">7,00</text>
<!-- row 19 -->
<text class="d" x="1598" y="2089.5" textLength="60" lengthAdjust="spacingAndGlyphs">3,00</text>
<text class="d" x="1745" y="2089.5" textLength="60" lengthAdjust="spacingAndGlyphs">3,30</text>
<text class="d" x="1896" y="2089.5" textLength="60" lengthAdjust="spacingAndGlyphs">3,50</text>
<text class="d" x="2032" y="2080" textLength="60" lengthAdjust="spacingAndGlyphs">3,80</text>
<text class="d" x="2190" y="2089.5" textLength="60" lengthAdjust="spacingAndGlyphs">4,60</text>
<text class="d" x="2332" y="2089.5" textLength="60" lengthAdjust="spacingAndGlyphs">5,50</text>
<text class="d" x="2486" y="2089.5" textLength="60" lengthAdjust="spacingAndGlyphs">6,50</text>
<text class="d" x="2654" y="2089.5" textLength="60" lengthAdjust="spacingAndGlyphs">7,50</text>
<text class="d" x="2796" y="2089.5" textLength="60" lengthAdjust="spacingAndGlyphs">9,50</text>
<!-- row 20 -->
<text class="d" x="1593" y="2156.5" textLength="60" lengthAdjust="spacingAndGlyphs">4,00</text>
<text class="d" x="1740" y="2156.5" textLength="60" lengthAdjust="spacingAndGlyphs">4,20</text>
<text class="d" x="1891" y="2156.5" textLength="60" lengthAdjust="spacingAndGlyphs">4,50</text>
<text class="d" x="2033" y="2156.5" textLength="60" lengthAdjust="spacingAndGlyphs">4,80</text>
<text class="d" x="2196" y="2156.5" textLength="60" lengthAdjust="spacingAndGlyphs">6,00</text>
<text class="d" x="2338" y="2156.5" textLength="60" lengthAdjust="spacingAndGlyphs">7,00</text>
<text class="d" x="2486" y="2156.5" textLength="60" lengthAdjust="spacingAndGlyphs">8,50</text>
<text class="d" x="2635" y="2156.5" textLength="77" lengthAdjust="spacingAndGlyphs">10,00</text>
<text class="d" x="2780" y="2156.5" textLength="77" lengthAdjust="spacingAndGlyphs">12,00</text>

<!-- index row -->
<text class="t" x="1621" y="2247">а</text>
<text class="t" x="1735" y="2247">б</text>
<text class="t" x="1867" y="2247">в</text>
<text class="t" x="2057" y="2247">г</text>
<text class="t" x="2236" y="2247">д</text>
<text class="t" x="2354" y="2247">е</text>
<text class="t" x="2499" y="2247">ж</text>
<text class="t" x="2671" y="2247">з</text>
<text class="t" x="2814" y="2247">и</text>

<text class="p" x="2284" y="2307" textLength="62" lengthAdjust="spacingAndGlyphs">241</text>
</svg>
</body></html>
